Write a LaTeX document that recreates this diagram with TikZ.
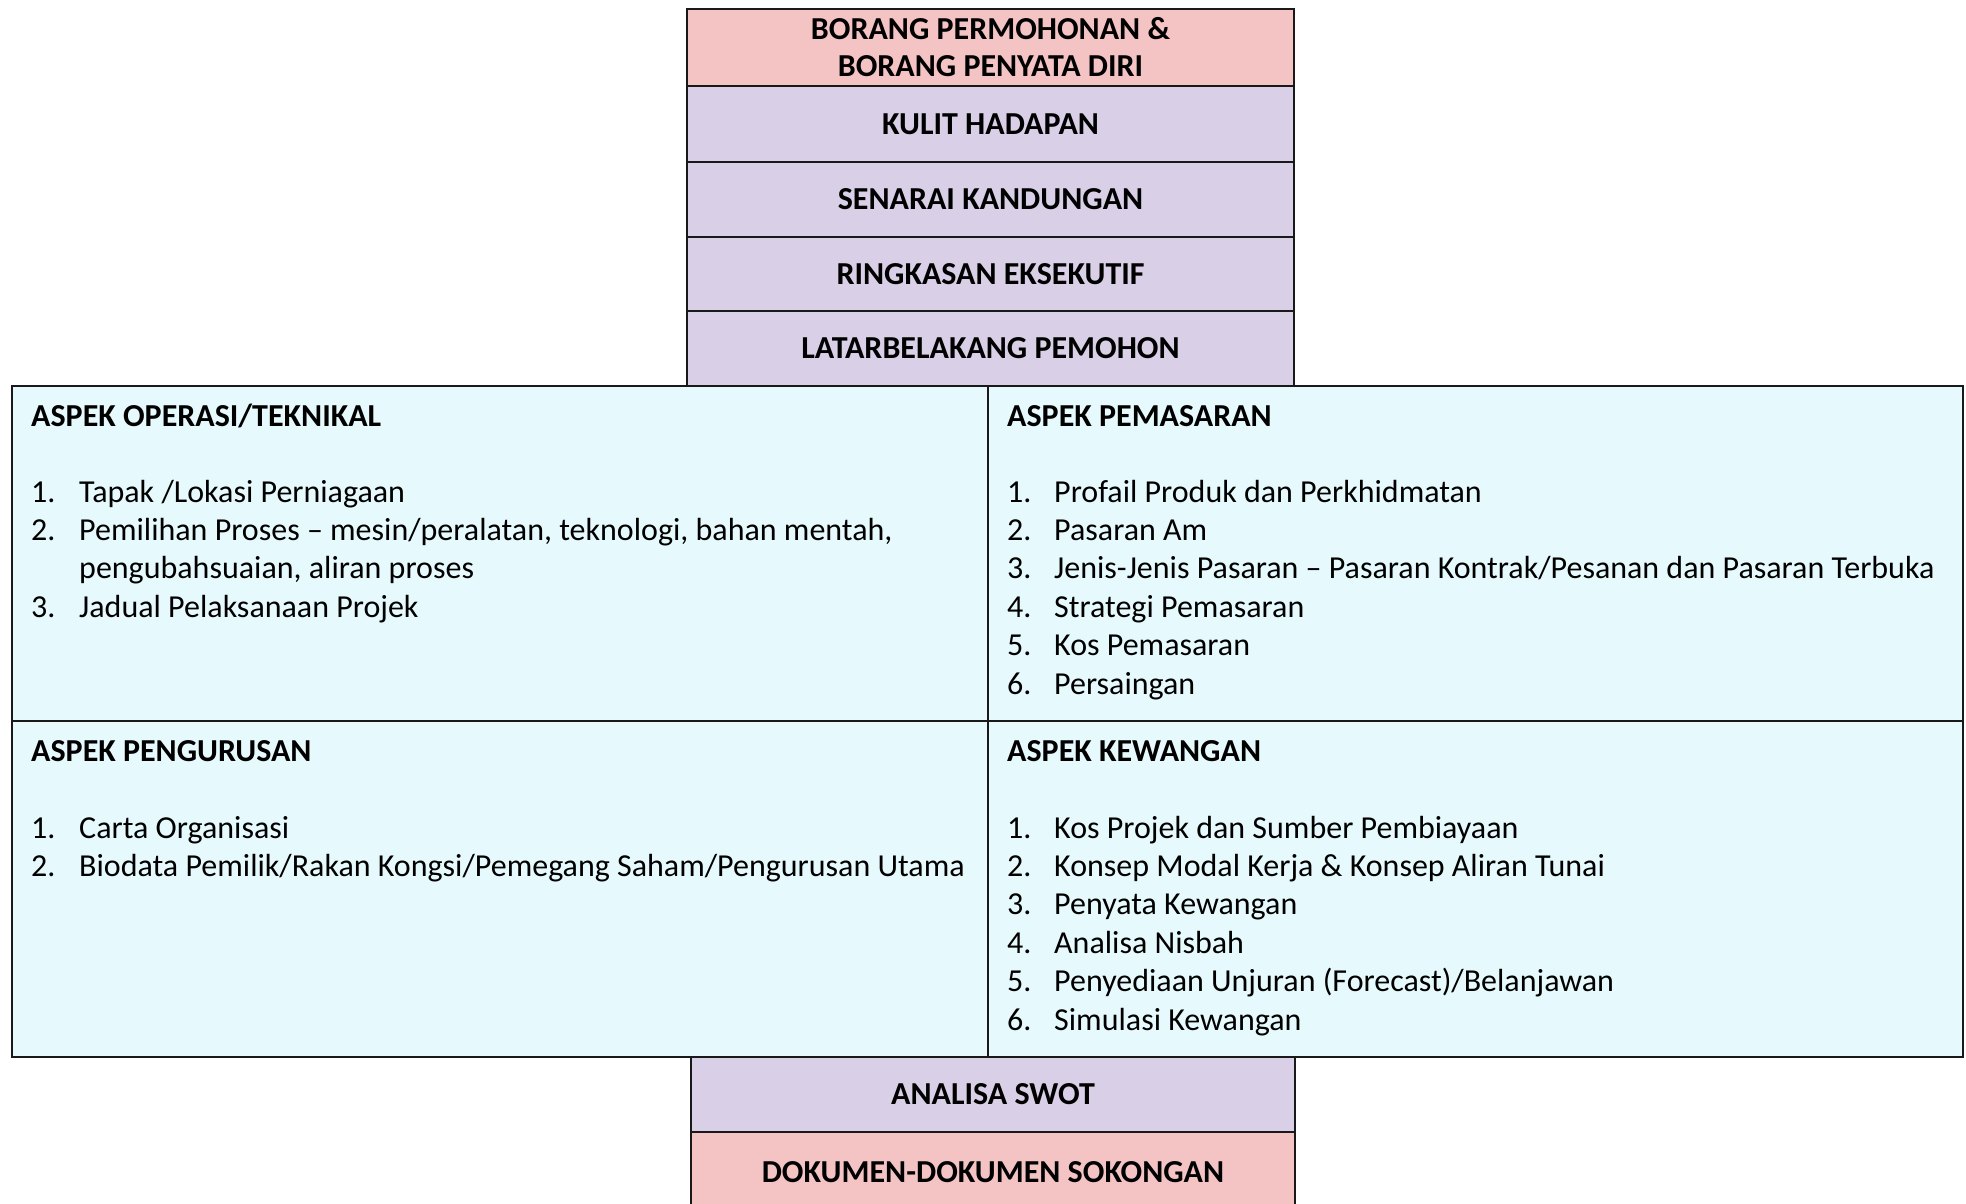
\documentclass[tikz,border=0pt]{standalone}
\usepackage{fontspec}
\setmainfont{Carlito}
\definecolor{pinkbox}{RGB}{244,196,196}
\definecolor{lavbox}{RGB}{217,207,230}
\definecolor{cyanbox}{RGB}{230,250,253}
\definecolor{edge}{RGB}{25,25,25}
\begin{document}
\begin{tikzpicture}[x=1pt,y=-1pt,
  box/.style={draw=edge,line width=2pt,inner sep=0pt,anchor=north west,
    font=\fontsize{32}{37.6}\selectfont\bfseries,align=center},
  cell/.style={draw=edge,line width=2pt,inner sep=0pt,anchor=north west,fill=cyanbox},
  ttl/.style={anchor=base west,inner sep=0pt,font=\fontsize{32}{38}\selectfont\bfseries},
  itm/.style={anchor=base west,inner sep=0pt,font=\fontsize{32}{38}\selectfont}]
\useasboundingbox (0,0) rectangle (1966,1203);
% top stack
\node[box,fill=pinkbox,minimum width=607pt,minimum height=77.5pt] (borang) at (686,7.5) {BORANG PERMOHONAN \&\\BORANG PENYATA DIRI};
\node[box,fill=lavbox,minimum width=607pt,minimum height=75.5pt] (kulit) at (686,85) {KULIT HADAPAN};
\node[box,fill=lavbox,minimum width=607pt,minimum height=75.5pt] (senarai) at (686,160.5) {SENARAI KANDUNGAN};
\node[box,fill=lavbox,minimum width=607pt,minimum height=74pt] (ringkas) at (686,236) {RINGKASAN EKSEKUTIF};
\node[box,fill=lavbox,minimum width=607pt,minimum height=75pt] (latar) at (686,310) {LATARBELAKANG PEMOHON};
% grid
\node[cell,minimum width=976pt,minimum height=335pt] (q1) at (11,385) {};
\node[cell,minimum width=975pt,minimum height=335pt] (q2) at (987,385) {};
\node[cell,minimum width=976pt,minimum height=336pt] (q3) at (11,720) {};
\node[cell,minimum width=975pt,minimum height=336pt] (q4) at (987,720) {};
% bottom stack
\node[box,fill=pinkbox,minimum width=604pt,minimum height=80pt] (dok) at (690,1131) {DOKUMEN-DOKUMEN SOKONGAN};
\node[box,fill=lavbox,minimum width=604pt,minimum height=75pt] (swot) at (690,1056) {ANALISA SWOT};
% quadrant 1
\node[ttl] (t1) at (31,426) {ASPEK OPERASI/TEKNIKAL};
\node[itm] (a1n) at (31,502) {1.};
\node[itm] (a1t) at (79,502) {Tapak /Lokasi Perniagaan};
\node[itm] (a2n) at (31,540.4) {2.};
\node[itm] (a2t) at (79,540.4) {Pemilihan Proses – mesin/peralatan, teknologi, bahan mentah,};
\node[itm] (a2c) at (79,578.8) {pengubahsuaian, aliran proses};
\node[itm] (a3n) at (31,617.2) {3.};
\node[itm] (a3t) at (79,617.2) {Jadual Pelaksanaan Projek};
% quadrant 2
\node[ttl] (t2) at (1007,426) {ASPEK PEMASARAN};
\foreach \k/\txt in {1/Profail Produk dan Perkhidmatan,2/Pasaran Am,3/Jenis-Jenis Pasaran – Pasaran Kontrak\slash Pesanan dan Pasaran Terbuka,4/Strategi Pemasaran,5/Kos Pemasaran,6/Persaingan}{
  \node[itm] (b\k n) at (1007,{502+38.4*(\k-1)}) {\k.};
  \node[itm] (b\k t) at (1054,{502+38.4*(\k-1)}) {\txt};
}
% quadrant 3
\node[ttl] (t3) at (31,761) {ASPEK PENGURUSAN};
\node[itm] (c1n) at (31,838) {1.};
\node[itm] (c1t) at (79,838) {Carta Organisasi};
\node[itm] (c2n) at (31,876.4) {2.};
\node[itm] (c2t) at (79,876.4) {Biodata Pemilik/Rakan Kongsi/Pemegang Saham/Pengurusan Utama};
% quadrant 4
\node[ttl] (t4) at (1007,761) {ASPEK KEWANGAN};
\foreach \k/\txt in {1/Kos Projek dan Sumber Pembiayaan,2/Konsep Modal Kerja \& Konsep Aliran Tunai,3/Penyata Kewangan,4/Analisa Nisbah,5/Penyediaan Unjuran (Forecast)\slash Belanjawan,6/Simulasi Kewangan}{
  \node[itm] (d\k n) at (1007,{838+38.4*(\k-1)}) {\k.};
  \node[itm] (d\k t) at (1054,{838+38.4*(\k-1)}) {\txt};
}
\end{tikzpicture}
\end{document}
